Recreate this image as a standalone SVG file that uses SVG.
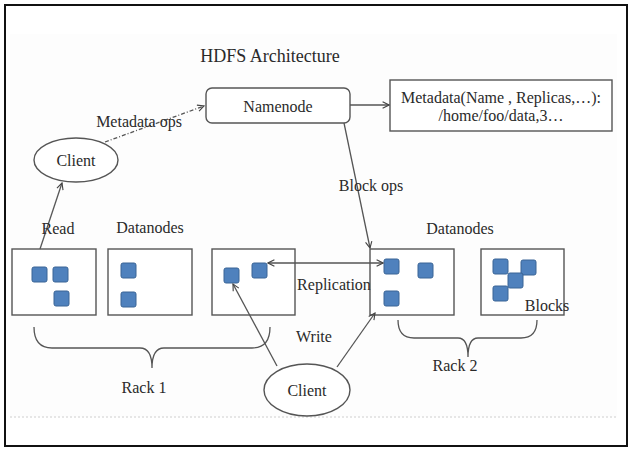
<svg xmlns="http://www.w3.org/2000/svg" width="632" height="450" viewBox="0 0 632 450" font-family="'Liberation Serif', 'Times New Roman', 'DejaVu Serif', serif">
<style>
text{font-family:'Liberation Serif','Times New Roman','DejaVu Serif',serif;font-size:16px;fill:#2a2a2a;text-anchor:middle}
.box{fill:#fff;stroke:#555;stroke-width:1.4}
.blk{fill:#4f81bd;stroke:#3a6596;stroke-width:1}
.ln{fill:none;stroke:#555;stroke-width:1.3}
.brace{fill:none;stroke:#555;stroke-width:1.3}
</style>
<defs>
<marker id="arr" viewBox="0 0 10 10" refX="9" refY="5" markerWidth="8" markerHeight="8" orient="auto-start-reverse" markerUnits="userSpaceOnUse">
<path d="M1,1 L9,5 L1,9" fill="none" stroke="#444" stroke-width="1.4"/>
</marker>
</defs>
<rect x="0" y="0" width="632" height="450" fill="#fff"/>
<rect x="10" y="34" width="607" height="383" fill="#fdfdfd"/>
<line x1="10" y1="417" x2="617" y2="417" stroke="#e6e6e6" stroke-width="2" stroke-dasharray="2,2"/>
<rect x="5" y="5" width="622" height="441" fill="none" stroke="#111" stroke-width="2"/>

<text x="270" y="62" style="font-size:18px">HDFS Architecture</text>

<g id="namenode">
<rect class="box" x="206" y="88" width="144" height="35" rx="6"/>
<text x="278" y="112">Namenode</text>
</g>
<g id="metadata">
<rect class="box" x="390" y="80" width="222" height="51"/>
<text x="501" y="103">Metadata(Name , Replicas,…):</text>
<text x="501" y="121">/home/foo/data,3…</text>
</g>
<g id="client-top">
<ellipse class="box" cx="76" cy="160" rx="42" ry="22"/>
<text x="76" y="166">Client</text>
</g>
<g id="client-bottom">
<ellipse class="box" cx="307" cy="390" rx="43" ry="26"/>
<text x="307" y="396">Client</text>
</g>

<g id="dn1">
<rect class="box" x="12" y="249" width="84" height="66"/>
<rect class="blk" x="32" y="267" width="15" height="15" rx="2"/>
<rect class="blk" x="53" y="267" width="15" height="15" rx="2"/>
<rect class="blk" x="54" y="291" width="15" height="15" rx="2"/>
</g>
<g id="dn2">
<rect class="box" x="108" y="249" width="84" height="66"/>
<rect class="blk" x="121" y="263" width="15" height="15" rx="2"/>
<rect class="blk" x="121" y="292" width="15" height="15" rx="2"/>
</g>
<g id="dn3">
<rect class="box" x="212" y="249" width="83" height="66"/>
<rect class="blk" x="224" y="268" width="15" height="15" rx="2"/>
<rect class="blk" x="252" y="263" width="15" height="15" rx="2"/>
</g>
<g id="dn4">
<rect class="box" x="370" y="249" width="84" height="66"/>
<rect class="blk" x="384" y="259" width="15" height="15" rx="2"/>
<rect class="blk" x="418" y="263" width="15" height="15" rx="2"/>
<rect class="blk" x="384" y="291" width="15" height="15" rx="2"/>
</g>
<g id="dn5">
<rect class="box" x="481" y="249" width="83" height="66"/>
<rect class="blk" x="493" y="259" width="15" height="15" rx="2"/>
<rect class="blk" x="521" y="260" width="15" height="15" rx="2"/>
<rect class="blk" x="508" y="273" width="15" height="15" rx="2"/>
<rect class="blk" x="493" y="286" width="15" height="15" rx="2"/>
</g>

<g id="connectors">
<line class="ln" x1="105" y1="142" x2="204" y2="106" stroke-dasharray="4,2,1,2" marker-end="url(#arr)"/>
<line class="ln" x1="350" y1="105" x2="389" y2="105" marker-end="url(#arr)"/>
<line class="ln" x1="344" y1="123" x2="370" y2="248" marker-end="url(#arr)"/>
<line class="ln" x1="40" y1="249" x2="62" y2="183" marker-end="url(#arr)"/>
<line class="ln" x1="268" y1="263" x2="383" y2="263" marker-start="url(#arr)" marker-end="url(#arr)"/>
<line class="ln" x1="277" y1="366" x2="233" y2="284" marker-end="url(#arr)"/>
<line class="ln" x1="337" y1="367" x2="375" y2="313" marker-end="url(#arr)"/>
</g>

<path class="brace" d="M34,327 Q34,348 52,348 H140 Q152,348 152,368 Q152,348 164,348 H252 Q270,348 270,327"/>
<path class="brace" d="M398,320 Q398,338 414,338 H458 Q468,338 468,357 Q468,338 478,338 H521 Q537,338 537,320"/>

<text x="139" y="127">Metadata ops</text>
<text x="371" y="191">Block ops</text>
<text x="58" y="234">Read</text>
<text x="150" y="233">Datanodes</text>
<text x="460" y="234">Datanodes</text>
<text x="334" y="290">Replication</text>
<text x="547" y="311">Blocks</text>
<text x="314" y="342">Write</text>
<text x="144" y="393">Rack 1</text>
<text x="455" y="371">Rack 2</text>
</svg>
